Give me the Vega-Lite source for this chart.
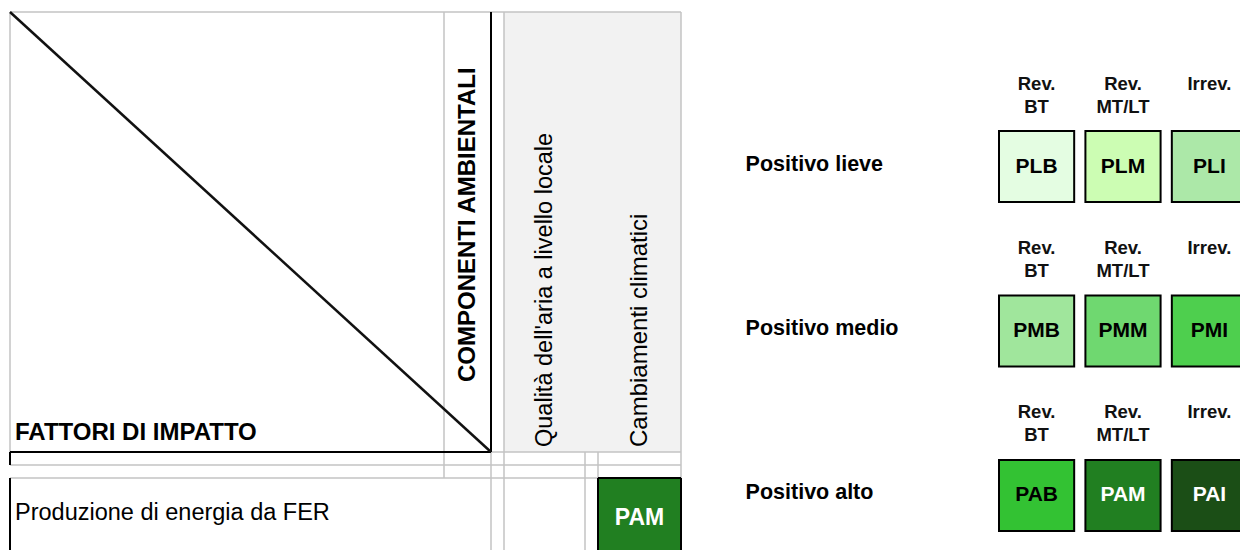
{
  "$schema": "https://vega.github.io/schema/vega-lite/v6.json",
  "width": 1240,
  "height": 550,
  "padding": 0,
  "autosize": {"type": "none"},
  "background": "#ffffff",
  "config": {"view": {"stroke": null}, "font": "Liberation Sans"},
  "resolve": {"scale": {"x": "independent", "y": "independent", "fill": "independent", "color": "independent", "strokeWidth": "independent"}},
  "layer": [
    {
      "layer": [
        {
          "data": {"values": [
            {"part": "panel", "c1": 3, "c2": 6, "r1": 0, "r2": 1},
            {"part": "PAM", "c1": 5, "c2": 6, "r1": 3, "r2": 4}
          ]},
          "mark": {"type": "rect"},
          "encoding": {
            "x": {"field": "c1", "type": "quantitative", "axis": null, "scale": {"type": "linear", "domain": [0,1,2,3,4,5,6], "range": [10,444,491,504,585,598,681], "zero": false, "nice": false}},
            "x2": {"field": "c2"},
            "y": {"field": "r1", "type": "quantitative", "axis": null, "scale": {"type": "linear", "domain": [0,1,2,3,4], "range": [12,452,465,478,551], "zero": false, "nice": false}},
            "y2": {"field": "r2"},
            "fill": {"field": "part", "type": "nominal", "legend": null, "scale": {"domain": ["panel", "PAM"], "range": ["#f2f2f2", "#217f21"]}}
          }
        },
        {
          "data": {"values": [
            {"kind": "thin", "c1": 0, "c2": 6, "r1": 0, "r2": 0},
            {"kind": "thin", "c1": 0, "c2": 0, "r1": 0, "r2": 1},
            {"kind": "thin", "c1": 1, "c2": 1, "r1": 0, "r2": 3},
            {"kind": "thin", "c1": 3, "c2": 3, "r1": 0, "r2": 4},
            {"kind": "thin", "c1": 6, "c2": 6, "r1": 0, "r2": 3},
            {"kind": "thin", "c1": 4, "c2": 4, "r1": 1, "r2": 4},
            {"kind": "thin", "c1": 5, "c2": 5, "r1": 1, "r2": 3},
            {"kind": "thin", "c1": 2, "c2": 2, "r1": 1, "r2": 4},
            {"kind": "thin", "c1": 2, "c2": 6, "r1": 1, "r2": 1},
            {"kind": "thin", "c1": 0, "c2": 6, "r1": 2, "r2": 2},
            {"kind": "thin", "c1": 0, "c2": 5, "r1": 3, "r2": 3},
            {"kind": "thick", "c1": 2, "c2": 2, "r1": 0, "r2": 1},
            {"kind": "thick", "c1": 0, "c2": 2, "r1": 1, "r2": 1},
            {"kind": "thick", "c1": 0, "c2": 0, "r1": 1, "r2": 2},
            {"kind": "thick", "c1": 0, "c2": 0, "r1": 3, "r2": 4},
            {"kind": "thick", "c1": 5, "c2": 5, "r1": 3, "r2": 4},
            {"kind": "thick", "c1": 6, "c2": 6, "r1": 3, "r2": 4},
            {"kind": "thick", "c1": 5, "c2": 6, "r1": 3, "r2": 3},
            {"kind": "diag", "c1": 0, "c2": 2, "r1": 0, "r2": 1}
          ]},
          "mark": {"type": "rule"},
          "encoding": {
            "x": {"field": "c1", "type": "quantitative", "axis": null, "scale": {"type": "linear", "domain": [0,1,2,3,4,5,6], "range": [10,444,491,504,585,598,681], "zero": false, "nice": false}},
            "x2": {"field": "c2"},
            "y": {"field": "r1", "type": "quantitative", "axis": null, "scale": {"type": "linear", "domain": [0,1,2,3,4], "range": [12,452,465,478,551], "zero": false, "nice": false}},
            "y2": {"field": "r2"},
            "color": {"field": "kind", "type": "nominal", "legend": null, "scale": {"domain": ["thin", "thick", "diag"], "range": ["#c3c3c3", "#000000", "#111111"]}},
            "strokeWidth": {"field": "kind", "type": "ordinal", "legend": null, "scale": {"domain": ["thin", "thick", "diag"], "range": [1.5, 2.5, 1.5]}}
          }
        },
        {
          "data": {"values": [{"label": "FATTORI DI IMPATTO", "c": 0, "r": 1}]},
          "mark": {"type": "text", "align": "left", "baseline": "alphabetic", "dx": 5, "dy": -12, "fontSize": 24, "fontWeight": "bold", "fill": "#000000"},
          "encoding": {
            "x": {"field": "c", "type": "quantitative", "axis": null, "scale": {"type": "linear", "domain": [0,1,2,3,4,5,6], "range": [10,444,491,504,585,598,681], "zero": false, "nice": false}},
            "y": {"field": "r", "type": "quantitative", "axis": null, "scale": {"type": "linear", "domain": [0,1,2,3,4], "range": [12,452,465,478,551], "zero": false, "nice": false}},
            "text": {"field": "label"}
          }
        },
        {
          "data": {"values": [{"label": "COMPONENTI AMBIENTALI", "c": 1.5, "r": 1}]},
          "mark": {"type": "text", "angle": 270, "align": "left", "baseline": "middle", "dx": 70, "fontSize": 24, "fontWeight": "bold", "fill": "#000000"},
          "encoding": {
            "x": {"field": "c", "type": "quantitative", "axis": null, "scale": {"type": "linear", "domain": [0,1,2,3,4,5,6], "range": [10,444,491,504,585,598,681], "zero": false, "nice": false}},
            "y": {"field": "r", "type": "quantitative", "axis": null, "scale": {"type": "linear", "domain": [0,1,2,3,4], "range": [12,452,465,478,551], "zero": false, "nice": false}},
            "text": {"field": "label"}
          }
        },
        {
          "data": {"values": [{"label": "Qualità dell'aria a livello locale", "c": 3.5, "r": 1}]},
          "mark": {"type": "text", "angle": 270, "align": "left", "baseline": "middle", "dx": 5, "fontSize": 23.5, "fill": "#000000"},
          "encoding": {
            "x": {"field": "c", "type": "quantitative", "axis": null, "scale": {"type": "linear", "domain": [0,1,2,3,4,5,6], "range": [10,444,491,504,585,598,681], "zero": false, "nice": false}},
            "y": {"field": "r", "type": "quantitative", "axis": null, "scale": {"type": "linear", "domain": [0,1,2,3,4], "range": [12,452,465,478,551], "zero": false, "nice": false}},
            "text": {"field": "label"}
          }
        },
        {
          "data": {"values": [{"label": "Cambiamenti climatici", "c": 5.5, "r": 1}]},
          "mark": {"type": "text", "angle": 270, "align": "left", "baseline": "middle", "dx": 5, "fontSize": 24, "fill": "#000000"},
          "encoding": {
            "x": {"field": "c", "type": "quantitative", "axis": null, "scale": {"type": "linear", "domain": [0,1,2,3,4,5,6], "range": [10,444,491,504,585,598,681], "zero": false, "nice": false}},
            "y": {"field": "r", "type": "quantitative", "axis": null, "scale": {"type": "linear", "domain": [0,1,2,3,4], "range": [12,452,465,478,551], "zero": false, "nice": false}},
            "text": {"field": "label"}
          }
        },
        {
          "data": {"values": [{"label": "Produzione di energia da FER", "c": 0, "r": 3.5}]},
          "mark": {"type": "text", "align": "left", "baseline": "middle", "dx": 5, "dy": -2, "fontSize": 23.5, "fill": "#000000"},
          "encoding": {
            "x": {"field": "c", "type": "quantitative", "axis": null, "scale": {"type": "linear", "domain": [0,1,2,3,4,5,6], "range": [10,444,491,504,585,598,681], "zero": false, "nice": false}},
            "y": {"field": "r", "type": "quantitative", "axis": null, "scale": {"type": "linear", "domain": [0,1,2,3,4], "range": [12,452,465,478,551], "zero": false, "nice": false}},
            "text": {"field": "label"}
          }
        },
        {
          "data": {"values": [{"label": "PAM", "c": 5.5, "r": 3.5}]},
          "mark": {"type": "text", "align": "center", "baseline": "middle", "dy": 3, "fontSize": 23, "fontWeight": "bold", "fill": "#ffffff"},
          "encoding": {
            "x": {"field": "c", "type": "quantitative", "axis": null, "scale": {"type": "linear", "domain": [0,1,2,3,4,5,6], "range": [10,444,491,504,585,598,681], "zero": false, "nice": false}},
            "y": {"field": "r", "type": "quantitative", "axis": null, "scale": {"type": "linear", "domain": [0,1,2,3,4], "range": [12,452,465,478,551], "zero": false, "nice": false}},
            "text": {"field": "label"}
          }
        }
      ]
    },
    {
      "layer": [
        {
          "data": {"values": [
            {"level": "Positivo lieve", "rev": "Rev. BT", "code": "PLB", "part": "code"},
            {"level": "Positivo lieve", "rev": "Rev. MT/LT", "code": "PLM", "part": "code"},
            {"level": "Positivo lieve", "rev": "Irrev.", "code": "PLI", "part": "code"},
            {"level": "Positivo medio", "rev": "Rev. BT", "code": "PMB", "part": "code"},
            {"level": "Positivo medio", "rev": "Rev. MT/LT", "code": "PMM", "part": "code"},
            {"level": "Positivo medio", "rev": "Irrev.", "code": "PMI", "part": "code"},
            {"level": "Positivo alto", "rev": "Rev. BT", "code": "PAB", "part": "code"},
            {"level": "Positivo alto", "rev": "Rev. MT/LT", "code": "PAM", "part": "code"},
            {"level": "Positivo alto", "rev": "Irrev.", "code": "PAI", "part": "code"}
          ]},
          "layer": [
            {
              "mark": {"type": "rect", "stroke": "#000000", "strokeWidth": 2},
              "encoding": {
                "x": {"field": "rev", "type": "nominal", "axis": null, "scale": {"type": "band", "domain": ["Rev. BT", "Rev. MT/LT", "Irrev."], "range": [999, 1247], "paddingInner": 0.13, "paddingOuter": 0}},
                "y": {"field": "level", "type": "nominal", "axis": null, "scale": {"type": "band", "domain": ["Positivo lieve", "Positivo medio", "Positivo alto"], "range": [48, 531], "paddingInner": 0.0638, "paddingOuter": 0}},
                "yOffset": {"field": "part", "type": "nominal", "scale": {"type": "band", "domain": ["header", "code"], "paddingInner": 0.1446, "paddingOuter": 0}},
                "fill": {"field": "code", "type": "nominal", "legend": null, "scale": {"domain": ["PLB", "PLM", "PLI", "PMB", "PMM", "PMI", "PAB", "PAM", "PAI"], "range": ["#e4fde2", "#ccfdb3", "#ace8a8", "#a0e69c", "#6fd870", "#4ecf4e", "#33c233", "#217f21", "#1b4e16"]}}
              }
            },
            {
              "mark": {"type": "text", "baseline": "middle", "fontSize": 21, "fontWeight": "bold"},
              "encoding": {
                "x": {"field": "rev", "type": "nominal", "axis": null},
                "y": {"field": "level", "type": "nominal", "axis": null},
                "yOffset": {"field": "part", "type": "nominal"},
                "text": {"field": "code"},
                "color": {"field": "code", "type": "nominal", "legend": null, "scale": {"domain": ["PLB", "PLM", "PLI", "PMB", "PMM", "PMI", "PAB", "PAM", "PAI"], "range": ["#000000", "#000000", "#000000", "#000000", "#000000", "#000000", "#000000", "#ffffff", "#ffffff"]}}
              }
            }
          ]
        },
        {
          "data": {"values": [
            {"level": "Positivo lieve", "rev": "Rev. BT", "part": "header"},
            {"level": "Positivo lieve", "rev": "Rev. MT/LT", "part": "header"},
            {"level": "Positivo lieve", "rev": "Irrev.", "part": "header"},
            {"level": "Positivo medio", "rev": "Rev. BT", "part": "header"},
            {"level": "Positivo medio", "rev": "Rev. MT/LT", "part": "header"},
            {"level": "Positivo medio", "rev": "Irrev.", "part": "header"},
            {"level": "Positivo alto", "rev": "Rev. BT", "part": "header"},
            {"level": "Positivo alto", "rev": "Rev. MT/LT", "part": "header"},
            {"level": "Positivo alto", "rev": "Irrev.", "part": "header"}
          ]},
          "mark": {"type": "text", "baseline": "middle", "fontSize": 18.5, "fontWeight": "bold", "lineBreak": " ", "lineHeight": 23, "fill": "#111111"},
          "encoding": {
            "x": {"field": "rev", "type": "nominal", "axis": null},
            "y": {"field": "level", "type": "nominal", "axis": null},
            "yOffset": {"field": "part", "type": "nominal"},
            "text": {"field": "rev"}
          }
        },
        {
          "data": {"values": [
            {"level": "Positivo lieve", "part": "code"},
            {"level": "Positivo medio", "part": "code"},
            {"level": "Positivo alto", "part": "code"}
          ]},
          "mark": {"type": "text", "align": "left", "baseline": "middle", "dx": -291, "dy": -2, "fontSize": 21.5, "fontWeight": "bold", "fill": "#000000"},
          "encoding": {
            "x": {"datum": "Rev. BT", "type": "nominal", "axis": null},
            "y": {"field": "level", "type": "nominal", "axis": null},
            "yOffset": {"field": "part", "type": "nominal"},
            "text": {"field": "level"}
          }
        }
      ]
    }
  ]
}
